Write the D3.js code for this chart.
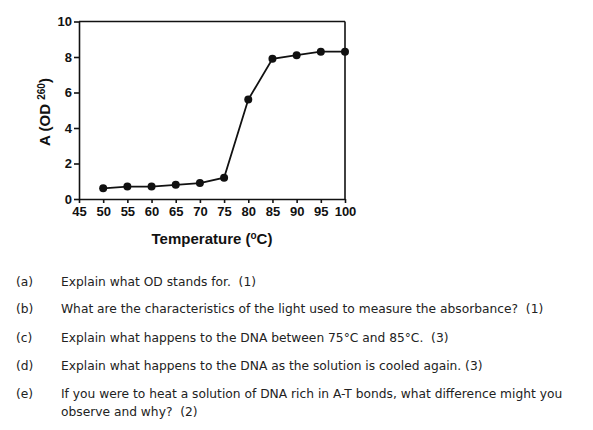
<!DOCTYPE html>
<html>
<head>
<meta charset="utf-8">
<script src="https://cdn.jsdelivr.net/npm/d3@7"></script>
<style>
  body { margin: 0; background: #fff; }
  .axis text { font-family: "Liberation Sans", Arial, sans-serif; font-weight: bold; font-size: 13px; fill: #111; }
  .axis path, .axis line { stroke: #111; stroke-width: 1.6; }
  .q { font-family: "DejaVu Sans", sans-serif; font-size: 12.25px; fill: #222; white-space: pre; }
</style>
</head>
<body>
<div id="chart"></div>
<script>
// melting curve values
var temps = [50, 55, 60, 65, 70, 75, 80, 85, 90, 95, 100];
var absorbance = [0.6, 0.7, 0.7, 0.8, 0.9, 1.2, 5.6, 7.9, 8.1, 8.3, 8.3];
var xTicks = [45, 50, 55, 60, 65, 70, 75, 80, 85, 90, 95, 100];
var yTicks = [0, 2, 4, 6, 8, 10];
var qLabels = ["(a)", "(b)", "(c)", "(d)", "(e)"];
var qTexts = [
  ["Explain what OD stands for.  (1)"],
  ["What are the characteristics of the light used to measure the absorbance?  (1)"],
  ["Explain what happens to the DNA between 75\u00B0C and 85\u00B0C.  (3)"],
  ["Explain what happens to the DNA as the solution is cooled again. (3)"],
  ["If you were to heat a solution of DNA rich in A-T bonds, what difference might you",
   "observe and why?  (2)"]
];
var qY = [282, 309, 338, 366, 394];

var W = 593, H = 430;
var margin = {top: 21.5, right: 248, bottom: 231, left: 79};
var width = W - margin.left - margin.right;
var height = H - margin.top - margin.bottom;

var svg = d3.select("#chart").append("svg")
    .attr("width", W)
    .attr("height", H);

var g = svg.append("g")
    .attr("transform", "translate(" + margin.left + "," + margin.top + ")");

var x = d3.scaleLinear().domain([45, 100]).range([0, width]);
var y = d3.scaleLinear().domain([0, 10]).range([height, 0]);

// frame top + right
g.append("line").attr("x1", 0).attr("x2", width).attr("y1", 0).attr("y2", 0)
    .attr("stroke", "#111").attr("stroke-width", 1.6);
g.append("line").attr("x1", width).attr("x2", width).attr("y1", 0).attr("y2", height)
    .attr("stroke", "#111").attr("stroke-width", 1.6);

g.append("g")
    .attr("class", "axis")
    .attr("transform", "translate(0," + height + ")")
    .call(d3.axisBottom(x).tickValues(xTicks).tickSize(4).tickPadding(4).tickSizeOuter(0));

g.append("g")
    .attr("class", "axis")
    .call(d3.axisLeft(y).tickValues(yTicks).tickSize(5).tickPadding(2).tickSizeOuter(0));

var line = d3.line()
    .x(function(d, i) { return x(temps[i]); })
    .y(function(d) { return y(d); });

g.append("path")
    .datum(absorbance)
    .attr("d", line)
    .attr("fill", "none")
    .attr("stroke", "#111")
    .attr("stroke-width", 1.8);

g.selectAll("circle")
    .data(absorbance)
  .enter().append("circle")
    .attr("cx", function(d, i) { return x(temps[i]); })
    .attr("cy", function(d) { return y(d); })
    .attr("r", 4)
    .attr("fill", "#111");

// axis titles
var yt = svg.append("text")
    .attr("transform", "translate(50,112) rotate(-90)")
    .attr("text-anchor", "middle")
    .style("font-family", "Liberation Sans, Arial, sans-serif")
    .style("font-weight", "bold")
    .style("font-size", "15px")
    .attr("fill", "#111");
yt.append("tspan").text("A (OD ");
yt.append("tspan").attr("dy", -5).style("font-size", "10px").text("260");
yt.append("tspan").attr("dy", 5).text(")");

var xt = svg.append("text")
    .attr("x", 212)
    .attr("y", 244)
    .attr("text-anchor", "middle")
    .style("font-family", "Liberation Sans, Arial, sans-serif")
    .style("font-weight", "bold")
    .style("font-size", "15px")
    .attr("fill", "#111");
xt.append("tspan").text("Temperature (");
xt.append("tspan").attr("dy", -5).style("font-size", "10px").text("o");
xt.append("tspan").attr("dy", 5).text("C)");

// questions
qLabels.forEach(function(lab, i) {
  svg.append("text").attr("class", "q").attr("x", 16).attr("y", qY[i] + 4).text(lab);
  qTexts[i].forEach(function(t, j) {
    svg.append("text").attr("class", "q").attr("x", 61).attr("y", qY[i] + 4 + j * 18).text(t);
  });
});
</script>
</body>
</html>
